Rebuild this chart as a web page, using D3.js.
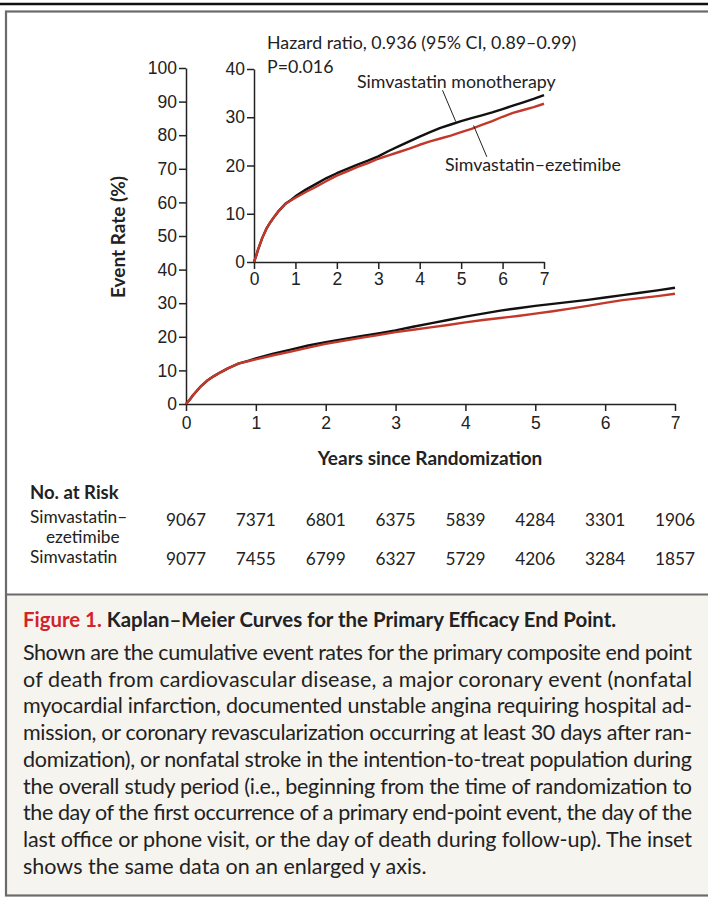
<!DOCTYPE html>
<html>
<head>
<meta charset="utf-8">
<script src="https://cdn.jsdelivr.net/npm/d3@7"></script>
<style>
  body { margin: 0; background: #fff; }
  svg { display: block; font-family: Lato, "Open Sans", sans-serif; }
  .axis path, .axis line { stroke: #222; stroke-width: 1.5; }
  .axis text { fill: #222; }
</style>
</head>
<body>
<div id="chart"></div>
<script>
// time points (years) and cumulative event rates (%)
var years = [0, 0.05, 0.1, 0.2, 0.3, 0.4, 0.5, 0.6, 0.75, 0.9, 1, 1.25, 1.5, 1.75, 2, 2.25, 2.5, 2.75, 3,
  3.25, 3.5, 3.75, 4, 4.25, 4.5, 4.75, 5, 5.25, 5.5, 5.75, 6, 6.25, 6.5, 6.75, 7];
var simvastatin = [0, 1.2, 2.6, 5, 6.9, 8.3, 9.5, 10.6, 12, 12.9, 13.6, 15, 16.2, 17.4, 18.4, 19.3, 20.2, 21, 21.9,
  23, 24, 25, 26, 26.9, 27.8, 28.5, 29.2, 29.8, 30.4, 31, 31.7, 32.4, 33.1, 33.8, 34.6];
var ezetimibe = [0, 1.2, 2.6, 5, 6.9, 8.3, 9.5, 10.6, 12, 12.8, 13.3, 14.5, 15.6, 16.8, 17.9, 18.8, 19.7, 20.5, 21.4,
  22.1, 22.8, 23.5, 24.3, 25, 25.6, 26.2, 26.9, 27.6, 28.4, 29.2, 30.1, 30.9, 31.5, 32.1, 32.8];

var mainYTicks = [0, 10, 20, 30, 40, 50, 60, 70, 80, 90, 100];
var insetYTicks = [0, 10, 20, 30, 40];
var xTicks = [0, 1, 2, 3, 4, 5, 6, 7];

// numbers at risk
var riskEze = [9067, 7371, 6801, 6375, 5839, 4284, 3301, 1906];
var riskSim = [9077, 7455, 6799, 6327, 5729, 4206, 3284, 1857];

var captionTitle = "Kaplan\u2013Meier Curves for the Primary Efficacy End Point.";
var captionLines = [
  "Shown are the cumulative event rates for the primary composite end point",
  "of death from cardiovascular disease, a major coronary event (nonfatal",
  "myocardial infarction, documented unstable angina requiring hospital ad-",
  "mission, or coronary revascularization occurring at least 30 days after ran-",
  "domization), or nonfatal stroke in the intention-to-treat population during",
  "the overall study period (i.e., beginning from the time of randomization to",
  "the day of the first occurrence of a primary end-point event, the day of the",
  "last office or phone visit, or the day of death during follow-up). The inset",
  "shows the same data on an enlarged y axis."
];

var W = 708, H = 899;
var svg = d3.select("#chart").append("svg").attr("width", W).attr("height", H);

// frame
svg.append("line").attr("x1", 0).attr("x2", W).attr("y1", 4).attr("y2", 4)
  .attr("stroke", "#111").attr("stroke-width", 2.5);
svg.append("rect").attr("x", 5).attr("y", 595).attr("width", W + 10).attr("height", 301)
  .attr("fill", "#f6f4ef");
svg.append("rect").attr("x", 6).attr("y", 11.5).attr("width", W + 10).attr("height", 884)
  .attr("fill", "none").attr("stroke", "#6b6b6b").attr("stroke-width", 2.2);
svg.append("line").attr("x1", 6).attr("x2", W).attr("y1", 594.5).attr("y2", 594.5)
  .attr("stroke", "#6b6b6b").attr("stroke-width", 2.2);

// main chart scales
var x = d3.scaleLinear().domain([0, 7]).range([186, 675]);
var y = d3.scaleLinear().domain([0, 100]).range([404, 68]);

// inset scales
var xi = d3.scaleLinear().domain([0, 7]).range([254, 544]);
var yi = d3.scaleLinear().domain([0, 40]).range([262, 69]);

function drawAxes(xs, ys, yt, pad) {
  svg.append("g").attr("class", "axis")
    .attr("transform", "translate(0," + ys(0) + ")")
    .call(d3.axisBottom(xs).tickValues(xTicks).tickFormat(d3.format("d"))
      .tickSize(7).tickSizeOuter(0).tickPadding(pad))
    .selectAll("text").style("font-size", "17.5px");
  svg.append("g").attr("class", "axis")
    .attr("transform", "translate(" + xs(0) + ",0)")
    .call(d3.axisLeft(ys).tickValues(yt).tickSize(7).tickSizeOuter(0).tickPadding(2))
    .selectAll("text").style("font-size", "17.5px");
}
drawAxes(x, y, mainYTicks, 6);
drawAxes(xi, yi, insetYTicks, 4);

function curve(xs, ys, vals, color) {
  var line = d3.line().x(function (d, i) { return xs(years[i]); })
    .y(function (d) { return ys(d); });
  svg.append("path").datum(vals).attr("d", line)
    .attr("fill", "none").attr("stroke", color).attr("stroke-width", 2.4)
    .attr("stroke-linejoin", "round");
}
curve(x, y, simvastatin, "#111");
curve(x, y, ezetimibe, "#c2392b");
curve(xi, yi, simvastatin, "#111");
curve(xi, yi, ezetimibe, "#c2392b");

// axis titles
svg.append("text").attr("x", 430).attr("y", 465).attr("text-anchor", "middle")
  .style("font-size", "19px").style("font-weight", "bold").attr("fill", "#222")
  .text("Years since Randomization");
svg.append("text").attr("transform", "translate(125,237) rotate(-90)").attr("text-anchor", "middle")
  .style("font-size", "19px").style("font-weight", "bold").attr("fill", "#222")
  .text("Event Rate (%)");

// inset annotations
var ann = svg.append("g").style("font-size", "17.8px").attr("fill", "#222");
ann.append("text").attr("x", 267).attr("y", 49).text("Hazard ratio, 0.936 (95% CI, 0.89\u20130.99)");
ann.append("text").attr("x", 267).attr("y", 73).text("P=0.016");
ann.append("text").attr("x", 357).attr("y", 88).text("Simvastatin monotherapy");
ann.append("text").attr("x", 445).attr("y", 171).text("Simvastatin\u2013ezetimibe");
svg.append("line").attr("x1", xi(4.55)).attr("y1", yi(35.6)).attr("x2", xi(4.87)).attr("y2", yi(29.1))
  .attr("stroke", "#222").attr("stroke-width", 1);
svg.append("line").attr("x1", xi(5.3)).attr("y1", yi(28.3)).attr("x2", xi(5.62)).attr("y2", yi(21.8))
  .attr("stroke", "#222").attr("stroke-width", 1);

// numbers at risk
var risk = svg.append("g").style("font-size", "17.3px").attr("fill", "#222");
risk.append("text").attr("x", 30).attr("y", 499).style("font-weight", "bold").style("font-size", "18.5px")
  .text("No. at Risk");
risk.append("text").attr("x", 30).attr("y", 523).text("Simvastatin\u2013");
risk.append("text").attr("x", 46).attr("y", 543).text("ezetimibe");
risk.append("text").attr("x", 30).attr("y", 563).text("Simvastatin");
risk.selectAll(".re").data(riskEze).enter().append("text")
  .attr("x", function (d, i) { return x(xTicks[i]); }).attr("y", 526)
  .attr("text-anchor", "middle").text(function (d) { return d; });
risk.selectAll(".rs").data(riskSim).enter().append("text")
  .attr("x", function (d, i) { return x(xTicks[i]); }).attr("y", 565)
  .attr("text-anchor", "middle").text(function (d) { return d; });

// caption
var cap = svg.append("text").attr("x", 23).attr("y", 627).style("font-size", "20.4px")
  .style("font-weight", "bold");
cap.append("tspan").attr("fill", "#d2232a").text("Figure 1. ");
cap.append("tspan").attr("fill", "#222").text(captionTitle);

svg.selectAll(".cl").data(captionLines).enter().append("text")
  .attr("x", 23).attr("y", function (d, i) { return 660 + i * 26.7; })
  .style("font-size", "21.5px").attr("fill", "#222")
  .each(function (d, i) {
    if (i < captionLines.length - 1) {
      d3.select(this).attr("textLength", 669).attr("lengthAdjust", "spacing");
    }
  })
  .text(function (d) { return d; });
</script>
</body>
</html>
